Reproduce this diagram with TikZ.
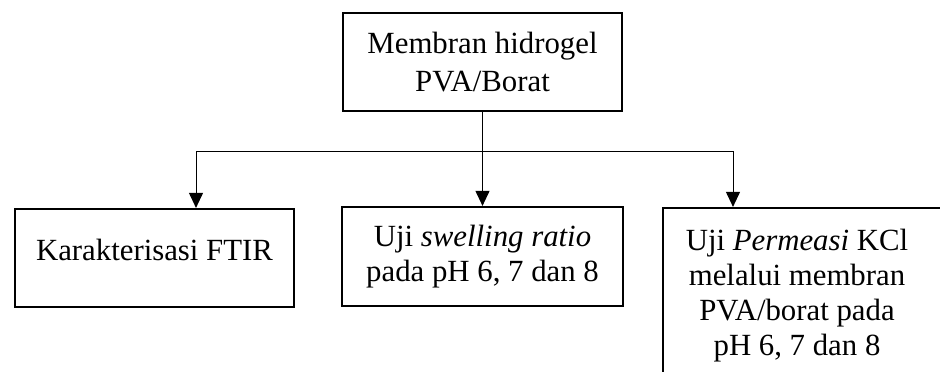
\documentclass[tikz,border=0pt]{standalone}
\usepackage{fontspec}
\setmainfont{Liberation Serif}
\usetikzlibrary{arrows.meta}
\tikzset{
  boxnode/.style={draw=black, line width=2.2pt, rectangle, align=center, inner sep=0pt,
    font=\fontsize{30.8}{35}\selectfont},
  textonly/.style={align=center, inner sep=0pt, font=\fontsize{30.8}{35}\selectfont},
  conn/.style={draw=black, line width=1pt},
  arr/.style={conn, -{Triangle[width=14pt,length=15pt]}}
}
\begin{document}
\begin{tikzpicture}[x=1pt,y=-1pt]
\useasboundingbox (0,0) rectangle (940,372);
\clip (0,0) rectangle (940,372);
\node[boxnode, minimum width=279pt, minimum height=98pt, font=\fontsize{30.8}{38}\selectfont] (top) at (482.5,62) {Membran hidrogel\\PVA/Borat};
\node[boxnode, minimum width=279pt, minimum height=98pt, text depth=16pt] (b1) at (154.5,258) {Karakterisasi FTIR};
\node[boxnode, minimum width=281pt, minimum height=99pt] (b2) at (482.5,256.5) {Uji \textit{swelling ratio}\\pada pH 6, 7 dan 8};
\node[boxnode, minimum width=282pt, minimum height=176pt] (b3) at (804,296) {};
\node[textonly] (t3) at (797,296) {Uji \textit{Permeasi} KCl\\melalui membran\\PVA/borat pada\\pH 6, 7 dan 8};
\coordinate (j) at (482.5,151);
\coordinate (c1) at (196,151);
\coordinate (c3) at (733,151);
\draw[conn] (top.south) -- (j);
\draw[conn] (c1) -- (c3);
\draw[arr] (c1) -- (c1 |- b1.north);
\draw[arr] (j) -- (b2.north);
\draw[arr] (c3) -- (c3 |- b3.north);
\end{tikzpicture}
\end{document}
